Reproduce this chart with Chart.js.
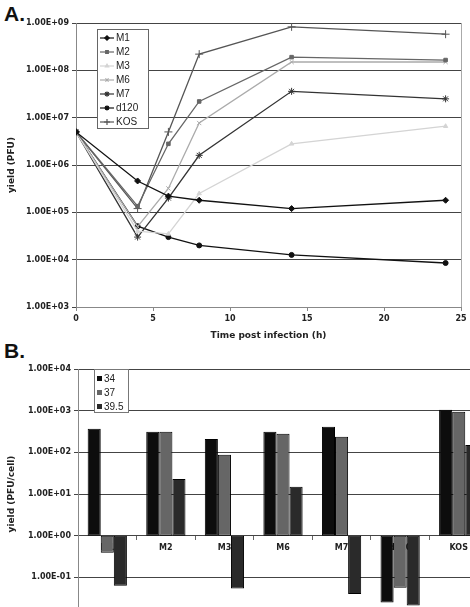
<!DOCTYPE html>
<html>
<head>
<meta charset="utf-8">
<script src="https://cdn.jsdelivr.net/npm/chart.js@4"></script>
<style>
  html, body { margin: 0; padding: 0; background: #fff; width: 470px; height: 607px; overflow: hidden; }
  .panel { position: absolute; font: bold 21px "Liberation Sans", Arial, sans-serif; color: #111; }
  #labA { left: 4px; top: 2px; }
  #labB { left: 4px; top: 339px; }
  #timeChart { position: absolute; left: 0; top: 0; }
  #tempChart { position: absolute; left: 0; top: 340px; }
</style>
</head>
<body>
<div class="panel" id="labA">A.</div>
<div class="panel" id="labB">B.</div>
<canvas id="timeChart" width="470" height="345"></canvas>
<canvas id="tempChart" width="500" height="290"></canvas>
<script>
// panel A: yield over time
const hours = [0, 4, 6, 8, 14, 24];
const m1   = [5.0e6, 4.6e5, 2.2e5, 1.8e5, 1.2e5, 1.8e5];
const m2   = [5.0e6, 1.35e5, 2.8e6, 2.2e7, 1.9e8, 1.65e8];
const m3   = [5.0e6, 4.0e4, 3.5e4, 2.5e5, 2.8e6, 6.6e6];
const m6   = [5.0e6, 5.0e4, 3.2e5, 7.7e6, 1.5e8, 1.5e8];
const m7   = [5.0e6, 3.0e4, 2.0e5, 1.6e6, 3.6e7, 2.5e7];
const d120 = [5.0e6, 5.1e4, 3.0e4, 2.0e4, 1.26e4, 8.5e3];
const kos  = [5.0e6, 1.2e5, 5.0e6, 2.2e8, 8.3e8, 5.8e8];
const timeTicks = [1e3, 1e4, 1e5, 1e6, 1e7, 1e8, 1e9];

// panel B: yield per cell by temperature
const strains = ['M1', 'M2', 'M3', 'M6', 'M7', 'd120', 'KOS'];
const temps = ['34', '37', '39.5'];
const yield34  = [370, 310, 210, 310, 410, 0.025, 1050];
const yield37  = [0.39, 310, 87, 280, 235, 0.056, 940];
const yield395 = [0.063, 23, 0.054, 15, 0.04, 0.021, 150];
const cellTicks = [1e-2, 1e-1, 1e0, 1e1, 1e2, 1e3, 1e4];

Chart.defaults.font.family = '"DejaVu Sans", Verdana, sans-serif';
Chart.defaults.color = '#222';

function fmt(v) {
  const e = Math.round(Math.log10(v));
  return '1.00E' + (e < 0 ? '-' : '+') + String(Math.abs(e)).padStart(2, '0');
}

const lineStyles = [
  { label: 'M1',   data: m1,   color: '#111', point: 'rectRot',  r: 3 },
  { label: 'M2',   data: m2,   color: '#666', point: 'rect',     r: 2.5 },
  { label: 'M3',   data: m3,   color: '#d4d4d4', point: 'triangle', r: 2.5 },
  { label: 'M6',   data: m6,   color: '#ababab', point: 'crossRot', r: 3 },
  { label: 'M7',   data: m7,   color: '#333', point: 'star',     r: 3.5 },
  { label: 'd120', data: d120, color: '#111', point: 'circle',   r: 2.5 },
  { label: 'KOS',  data: kos,  color: '#555', point: 'cross',    r: 4 }
];

const rightBorder = {
  id: 'rightBorder',
  beforeDatasetsDraw(chart) {
    const { ctx, chartArea: a } = chart;
    ctx.save();
    ctx.strokeStyle = '#aaa';
    ctx.lineWidth = 1;
    ctx.beginPath();
    ctx.moveTo(a.right + 0.5, a.top);
    ctx.lineTo(a.right + 0.5, a.bottom);
    ctx.stroke();
    ctx.restore();
  }
};

const lineLegend = {
  id: 'lineLegend',
  afterDraw(chart) {
    const ctx = chart.ctx;
    ctx.save();
    ctx.fillStyle = '#fff';
    ctx.fillRect(97, 29, 51, 99);
    ctx.strokeStyle = '#666';
    ctx.lineWidth = 1;
    ctx.strokeRect(97.5, 29.5, 51, 99);
    chart.data.datasets.forEach((ds, i) => {
      const y = 38 + i * 14;
      ctx.strokeStyle = ds.borderColor;
      ctx.fillStyle = ds.backgroundColor;
      ctx.lineWidth = 1.2;
      ctx.beginPath();
      ctx.moveTo(100, y);
      ctx.lineTo(114, y);
      ctx.stroke();
      Chart.helpers.drawPoint(ctx, { pointStyle: ds.pointStyle, radius: ds.pointRadius * 0.75, rotation: 0, borderWidth: 1 }, 107, y);
      ctx.fillStyle = '#222';
      ctx.font = '10px "Liberation Sans", Arial, sans-serif';
      ctx.textBaseline = 'middle';
      ctx.fillText(ds.label, 116, y + 0.5);
    });
    ctx.restore();
  }
};

new Chart(document.getElementById('timeChart'), {
  type: 'line',
  data: {
    datasets: lineStyles.map(s => ({
      label: s.label,
      data: hours.map((h, i) => ({ x: h, y: s.data[i] })),
      borderColor: s.color,
      backgroundColor: s.color,
      pointStyle: s.point,
      pointRadius: s.r,
      pointBorderWidth: 1,
      borderWidth: 1.3,
      tension: 0
    }))
  },
  options: {
    responsive: false,
    animation: false,
    layout: { padding: { top: 23, right: 9, left: 0, bottom: 0 } },
    plugins: { legend: { display: false }, tooltip: { enabled: false } },
    scales: {
      x: {
        type: 'linear', min: 0, max: 25,
        ticks: { stepSize: 5, padding: 3, maxRotation: 0, font: { size: 8, weight: 'bold' } },
        grid: { drawOnChartArea: false, tickLength: 4, color: '#888' },
        border: { color: '#888' },
        title: { display: true, text: 'Time post infection (h)', font: { size: 9, weight: 'bold' }, padding: { top: 2, bottom: 4 } },
        afterFit: s => { s.height = 38; }
      },
      y: {
        type: 'logarithmic', min: 1e3, max: 1e9,
        afterBuildTicks: s => { s.ticks = timeTicks.map(v => ({ value: v })); },
        ticks: { callback: v => fmt(v), padding: 3, font: { size: 8, weight: 'bold' } },
        grid: { color: '#444', tickLength: 4 },
        border: { color: '#888' },
        title: { display: true, text: 'yield (PFU)', font: { size: 9, weight: 'bold' }, padding: { top: 6, bottom: 0 } },
        afterFit: s => { s.width = 76; }
      }
    }
  },
  plugins: [rightBorder, lineLegend]
});

const barColors = ['#0d0d0d', '#666', '#2a2a2a'];

const barLegend = {
  id: 'barLegend',
  afterDraw(chart) {
    const ctx = chart.ctx;
    ctx.save();
    ctx.fillStyle = '#fff';
    ctx.fillRect(94, 29, 34, 43);
    ctx.strokeStyle = '#777';
    ctx.lineWidth = 1;
    ctx.strokeRect(94.5, 29.5, 34, 43);
    chart.data.datasets.forEach((ds, i) => {
      const y = 39 + i * 14;
      ctx.fillStyle = ds.backgroundColor;
      ctx.fillRect(97, y - 3, 5, 5);
      ctx.fillStyle = '#222';
      ctx.font = '10px "Liberation Sans", Arial, sans-serif';
      ctx.textBaseline = 'middle';
      ctx.fillText(ds.label, 104, y);
    });
    ctx.restore();
  }
};

const barSets = [yield34, yield37, yield395];

new Chart(document.getElementById('tempChart'), {
  type: 'bar',
  data: {
    labels: strains,
    datasets: temps.map((t, i) => ({
      label: t,
      data: barSets[i].map(v => [1, v]),
      backgroundColor: barColors[i],
      borderColor: '#000',
      borderWidth: 1,
      borderSkipped: false,
      categoryPercentage: 0.67,
      barPercentage: 1
    }))
  },
  options: {
    responsive: false,
    animation: false,
    layout: { padding: { top: 29, right: 12, left: 0, bottom: 11 } },
    plugins: { legend: { display: false }, tooltip: { enabled: false } },
    scales: {
      x: {
        position: { y: 1 },
        ticks: { padding: 3, maxRotation: 0, font: { size: 8, weight: 'bold' } },
        grid: { drawOnChartArea: false, offset: true, tickLength: 4, color: '#666' },
        border: { display: false }
      },
      y: {
        type: 'logarithmic', min: 1e-2, max: 1e4,
        afterBuildTicks: s => { s.ticks = cellTicks.map(v => ({ value: v })); },
        ticks: { callback: v => fmt(v), padding: 3, font: { size: 8, weight: 'bold' } },
        grid: { color: '#444', tickLength: 4 },
        border: { color: '#888' },
        title: { display: true, text: 'yield (PFU/cell)', font: { size: 9, weight: 'bold' }, padding: { top: 6, bottom: 0 } },
        afterFit: s => { s.width = 78; }
      }
    }
  },
  plugins: [barLegend]
});
</script>
</body>
</html>
